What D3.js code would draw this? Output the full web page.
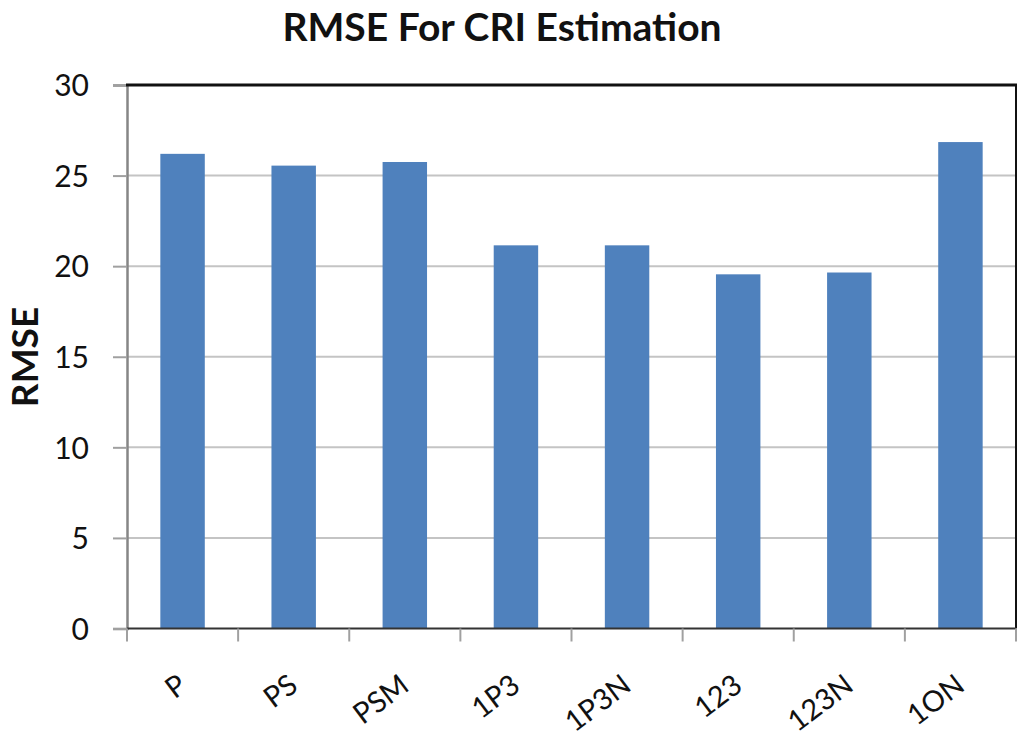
<!DOCTYPE html>
<html>
<head>
<meta charset="utf-8">
<script src="https://cdn.jsdelivr.net/npm/d3@7"></script>
<style>
  html, body { margin: 0; padding: 0; background: #fff; }
  svg { display: block; }
</style>
</head>
<body>
<svg id="chart" width="1024" height="740"></svg>
<script>
const categories = ["P", "PS", "PSM", "1P3", "1P3N", "123", "123N", "1ON"];
const rmseValues = [26.2, 25.55, 25.75, 21.15, 21.15, 19.55, 19.65, 26.85];
const yTicks = [0, 5, 10, 15, 20, 25, 30];
const titleText = "RMSE For CRI Estimation";
const yLabelText = "RMSE";

(function () {
const svg = d3.select("#chart");
const pL = 127, pR = 1016, pT = 85, pB = 628.5;

const x = d3.scaleBand().domain(categories).range([pL, pR])
  .paddingInner(0.6).paddingOuter(0.3);
const y = d3.scaleLinear().domain([0, 30]).range([pB, pT]);

// gridlines
svg.append("g").selectAll("line").data(yTicks.filter(d => d > 0 && d < 30)).join("line")
  .attr("x1", pL).attr("x2", pR)
  .attr("y1", d => y(d)).attr("y2", d => y(d))
  .attr("stroke", "#c4c4c4").attr("stroke-width", 2);

// bars
svg.append("g").selectAll("rect").data(categories).join("rect")
  .attr("x", d => x(d))
  .attr("width", x.bandwidth())
  .attr("y", (d, i) => y(rmseValues[i]))
  .attr("height", (d, i) => y(0) - y(rmseValues[i]))
  .attr("fill", "#4F81BD");

// y axis
const yAxis = d3.axisLeft(y).tickValues(yTicks).tickSize(14).tickPadding(24);
const gy = svg.append("g").attr("transform", `translate(${pL},0)`).call(yAxis);
gy.select(".domain").attr("stroke", "#868686").attr("stroke-width", 2.5);
gy.selectAll(".tick line").attr("stroke", "#a0a0a0").attr("stroke-width", 2);
gy.selectAll(".tick text").attr("font-family", "Lato, 'Open Sans', sans-serif")
  .attr("font-size", 30).attr("fill", "#111").attr("dy", "0.36em");

// top and right border
svg.append("line").attr("x1", pL - 1).attr("x2", pR + 1).attr("y1", pT).attr("y2", pT)
  .attr("stroke", "#111").attr("stroke-width", 3);
svg.append("line").attr("x1", pR).attr("x2", pR).attr("y1", pT).attr("y2", pB)
  .attr("stroke", "#111").attr("stroke-width", 2);

// x axis
const boundaries = d3.range(categories.length + 1).map(i => pL + i * x.step());
const gx = svg.append("g");
gx.append("line").attr("x1", pL).attr("x2", pR).attr("y1", pB).attr("y2", pB)
  .attr("stroke", "#333").attr("stroke-width", 2);
gx.selectAll("line.tk").data(boundaries).join("line").attr("class", "tk")
  .attr("x1", d => d).attr("x2", d => d)
  .attr("y1", pB).attr("y2", pB + 13)
  .attr("stroke", "#a0a0a0").attr("stroke-width", 2);
gx.selectAll("text").data(categories).join("text")
  .attr("transform", d => `translate(${x(d) + x.bandwidth() / 2 + 6},${689}) rotate(-37)`)
  .attr("text-anchor", "end")
  .attr("font-family", "Lato, 'Open Sans', sans-serif")
  .attr("font-size", 29).attr("fill", "#111")
  .text(d => d);

// title
svg.append("text").attr("x", 502).attr("y", 41).attr("text-anchor", "middle")
  .attr("font-family", "Lato, 'Open Sans', sans-serif").attr("font-weight", "bold")
  .attr("font-size", 39).attr("fill", "#111").text(titleText);

// y label
svg.append("text").attr("transform", "translate(38,357) rotate(-90)")
  .attr("text-anchor", "middle")
  .attr("font-family", "Lato, 'Open Sans', sans-serif").attr("font-weight", "bold")
  .attr("font-size", 37).attr("fill", "#111").text(yLabelText);
})();
</script>
</body>
</html>
